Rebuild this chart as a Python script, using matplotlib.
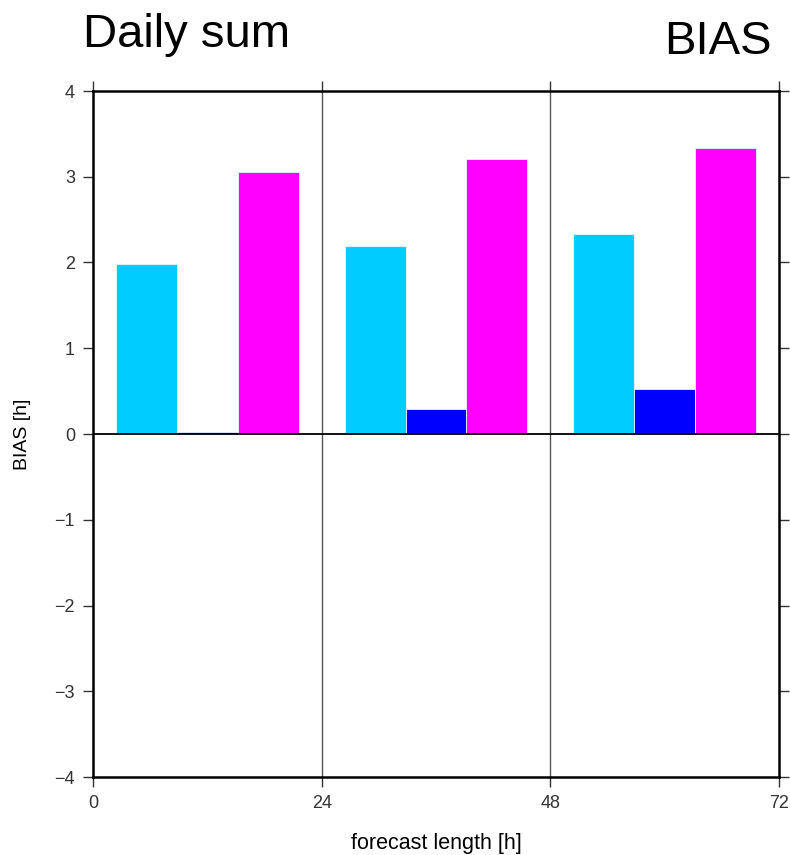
import matplotlib
matplotlib.use("Agg")
import matplotlib.pyplot as plt
import numpy as np

plt.rcParams['font.family'] = ['Liberation Sans', 'DejaVu Sans']

group_centers = [12, 36, 60]
cyan_vals = [1.98, 2.19, 2.33]
blue_vals = [0.02, 0.29, 0.53]
magenta_vals = [3.05, 3.21, 3.34]
colors = ["#00CCFF", "#0000FF", "#FF00FF"]
xticks = [0, 24, 48, 72]
yticks = [-4, -3, -2, -1, 0, 1, 2, 3, 4]

fig = plt.figure(figsize=(7.9, 8.55), dpi=100)
ax = fig.add_axes([93/790, 78/855, 686/790, 686/855])

bw = 6.4
offsets = [-bw, 0, bw]
for vals, off, c in zip([cyan_vals, blue_vals, magenta_vals], offsets, colors):
    ax.bar(np.array(group_centers) + off, vals, width=bw, color=c,
           edgecolor='#e8f4ff', linewidth=0.6, zorder=2)

ax.set_xlim(0, 72)
ax.set_ylim(-4, 4)
ax.set_xticks(xticks)
ax.set_yticks(yticks)
ax.set_yticklabels([("\u2212" + str(-v)) if v < 0 else str(v) for v in yticks])

for xv in [24, 48]:
    ax.axvline(xv, color='#555555', lw=1.0, zorder=1)
ax.axhline(0, color='black', lw=1.3, zorder=3)

for s in ax.spines.values():
    s.set_linewidth(1.8)
    s.set_color('black')

ax.tick_params(axis='both', direction='out', length=7, width=1.0, color='#333333',
               labelsize=13, labelcolor='#333333', pad=6,
               top=True, right=True)
ax.tick_params(axis='x', pad=6)

ax.set_xlabel("forecast length [h]", fontsize=15.5, labelpad=15)
ax.set_ylabel("BIAS [h]", fontsize=14, labelpad=17)

fig.text(83/790, 1 - 35/855, "Daily sum", fontsize=34, ha='left', va='center')
fig.text(772/790, 1 - 42/855, "BIAS", fontsize=34, ha='right', va='center')

fig.savefig("out.png", dpi=100)
